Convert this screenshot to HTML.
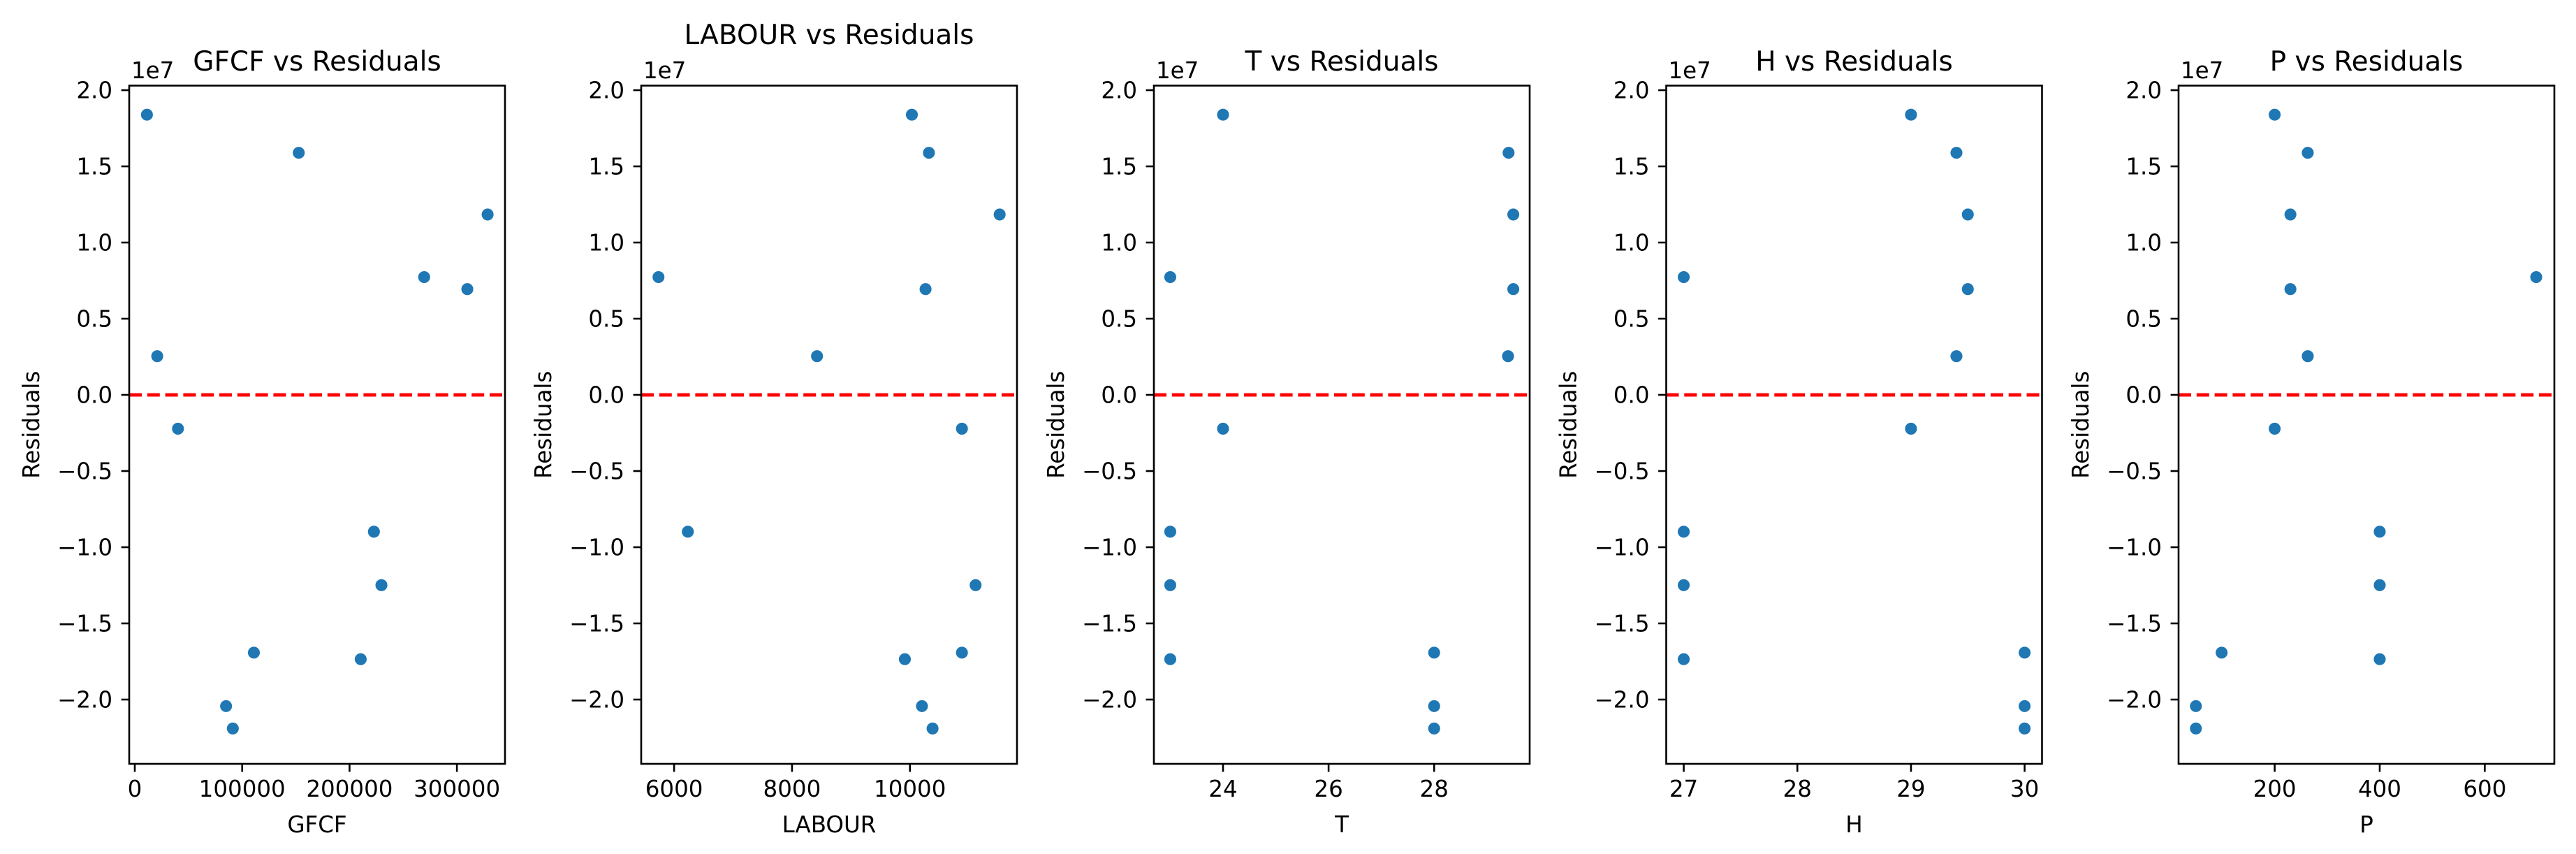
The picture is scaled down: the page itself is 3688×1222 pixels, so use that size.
<!DOCTYPE html>
<html><head><meta charset="utf-8"><style>
html,body{margin:0;padding:0;background:#fff;}
svg{display:block;font-family:"DejaVu Sans","Liberation Sans",sans-serif;}
</style></head><body>
<svg id="fig" xmlns="http://www.w3.org/2000/svg" width="3688" height="1222" viewBox="0 0 3688 1222"></svg>
<script>
// Shared residuals (units of 1e7)
const residuals = [1.839, 1.589, 1.184, 0.773, 0.694, 0.254, -0.222, -0.898, -1.249, -1.735, -1.692, -2.043, -2.190];
// Predictor values per point (same order as residuals)
const gfcfValues = [11300, 152700, 328600, 269500, 309700, 20900, 40200, 222700, 229700, 210400, 110900, 85000, 91300];
const labourValues = [10033, 10322, 11522, 5735, 10265, 8424, 10882, 6233, 11114, 9914, 10882, 10204, 10384];
const tValues = [24, 29.41, 29.5, 23, 29.5, 29.4, 24, 23, 23, 23, 28, 28, 28];
const hValues = [29, 29.4, 29.5, 27, 29.5, 29.4, 29, 27, 27, 27, 30, 30, 30];
const pValues = [200, 263, 230, 698, 230, 263, 200, 400, 400, 400, 99, 50, 50];
// Axis ticks
const yTicks = [2.0, 1.5, 1.0, 0.5, 0.0, -0.5, -1.0, -1.5, -2.0];
const gfcfTicks = [0, 100000, 200000, 300000];
const labourTicks = [6000, 8000, 10000];
const tTicks = [24, 26, 28];
const hTicks = [27, 28, 29, 30];
const pTicks = [200, 400, 600];
const panelNames = ["GFCF", "LABOUR", "T", "H", "P"];

const NS = "http://www.w3.org/2000/svg";
const svg = document.getElementById("fig");
function mk(tag, attrs, parent) {
  const e = document.createElementNS(NS, tag);
  for (const k in attrs) e.setAttribute(k, attrs[k]);
  (parent || svg).appendChild(e);
  return e;
}
const TOP = 122.5, BOT = 1093, W = 538;
const Y_MIN = -2.422, Y_MAX = 2.03;
function yScale(v) { return BOT - (v - Y_MIN) / (Y_MAX - Y_MIN) * (BOT - TOP); }

const panels = [
  {name: "gfcf", label: "GFCF", x: gfcfValues, ticks: gfcfTicks, xmin: -5200, xmax: 344800, left: 185, titleY: 101},
  {name: "labour", label: "LABOUR", x: labourValues, ticks: labourTicks, xmin: 5442, xmax: 11816, left: 918, titleY: 63},
  {name: "t", label: "T", x: tValues, ticks: tTicks, xmin: 22.69, xmax: 29.81, left: 1652, titleY: 101},
  {name: "h", label: "H", x: hValues, ticks: hTicks, xmin: 26.846, xmax: 30.153, left: 2385.5, titleY: 101},
  {name: "p", label: "P", x: pValues, ticks: pTicks, xmin: 17, xmax: 732.5, left: 3119, titleY: 101}
];

panels.forEach(p => {
  const g = mk("g", {});
  
  
  const L = p.left, R = p.left + W;
  const xs = v => L + (v - p.xmin) / (p.xmax - p.xmin) * W;

  // zero line
  const zl = mk("line", {x1: L, x2: R, y1: yScale(0), y2: yScale(0), stroke: "#ff0000", "stroke-width": 4.9, "stroke-dasharray": "18 7.8"}, g);
  
  

  // points
  residuals.forEach((r, i) => {
    const c = mk("circle", {cx: xs(p.x[i]), cy: yScale(r), r: 9.3, fill: "#1f77b4", stroke: "#ffffff", "stroke-width": 1.5}, g);
    
    
  });

  // frame
  const fr = mk("rect", {x: L, y: TOP, width: W, height: BOT - TOP, fill: "none", stroke: "#000", "stroke-width": 2.6}, g);
  
  

  // y ticks
  yTicks.forEach(t => {
    const y = yScale(t);
    mk("line", {x1: L - 11.4, x2: L, y1: y, y2: y, stroke: "#000", "stroke-width": 2.6}, g);
    const tx = mk("text", {x: L - 24, y: y + 11.5, "text-anchor": "end", "font-size": 32.5, fill: "#000"}, g);
    tx.textContent = (t < 0 ? "\u2212" : "") + Math.abs(t).toFixed(1);
    
    
  });
  // x ticks
  p.ticks.forEach(t => {
    const x = xs(t);
    mk("line", {x1: x, x2: x, y1: BOT, y2: BOT + 11.4, stroke: "#000", "stroke-width": 2.6}, g);
    const tx = mk("text", {x: x, y: 1140, "text-anchor": "middle", "font-size": 32.5, fill: "#000"}, g);
    tx.textContent = String(t);
    
    
  });
  // offset text
  const off = mk("text", {x: L + 3, y: 112, "font-size": 32.5, fill: "#000"}, g);
  off.textContent = "1e7";
  
  
  // title
  const ti = mk("text", {x: L + W / 2, y: p.titleY, "text-anchor": "middle", "font-size": 39, fill: "#000"}, g);
  ti.textContent = p.label + " vs Residuals";
  
  
  // x label
  const xl = mk("text", {x: L + W / 2, y: 1191, "text-anchor": "middle", "font-size": 32.5, fill: "#000"}, g);
  xl.textContent = p.label;
  
  
  // y label
  const yx = L - 129, yy = (TOP + BOT) / 2;
  const yl = mk("text", {x: yx, y: yy, "text-anchor": "middle", "font-size": 32.5, fill: "#000", transform: "rotate(-90 " + yx + " " + yy + ")"}, g);
  yl.textContent = "Residuals";
  
  
});
</script>
</body></html>
